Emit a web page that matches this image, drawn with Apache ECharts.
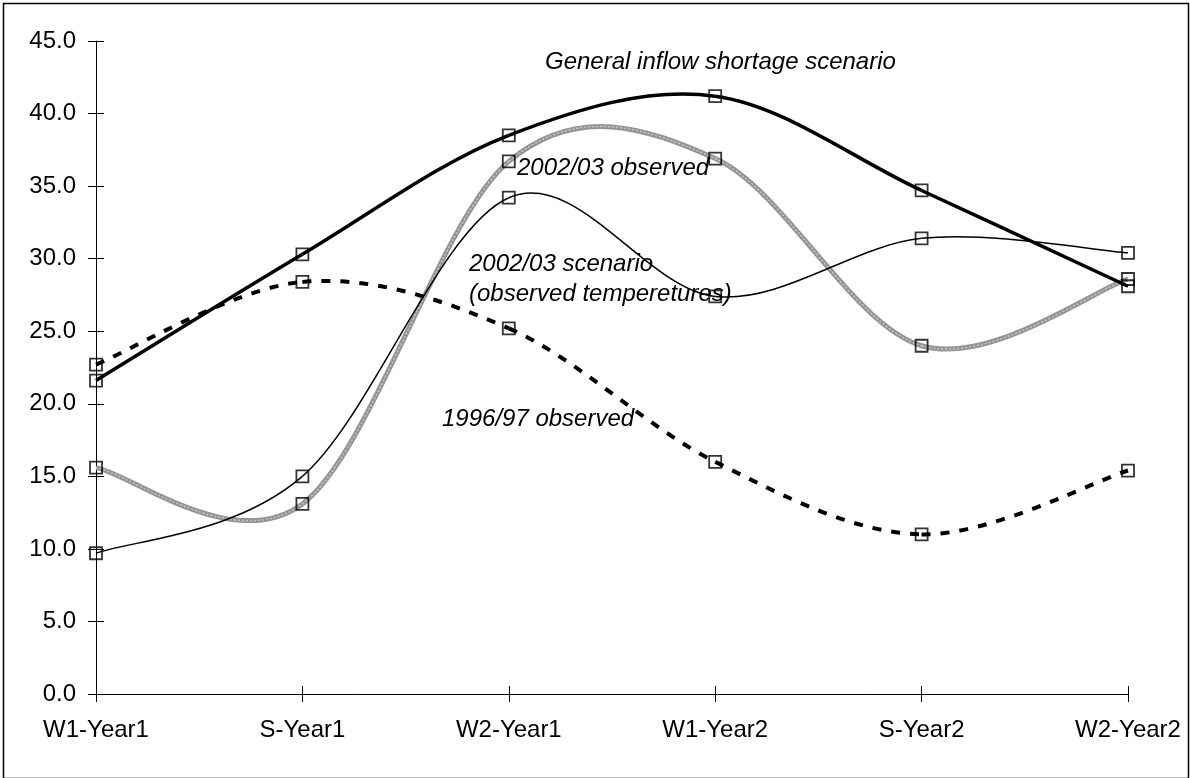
<!DOCTYPE html>
<html>
<head>
<meta charset="utf-8">
<script src="https://cdn.jsdelivr.net/npm/echarts@6/dist/echarts.min.js"></script>
<style>
html,body{margin:0;padding:0;background:#fff;}
#chart{width:1190px;height:778px;}
</style>
</head>
<body>
<div id="chart"></div>
<script>
const categories = ['W1-Year1', 'S-Year1', 'W2-Year1', 'W1-Year2', 'S-Year2', 'W2-Year2'];
const generalShortage = [21.6, 30.3, 38.5, 41.2, 34.7, 28.1];
const observed9697 = [22.7, 28.4, 25.2, 16.0, 11.0, 15.4];
const observed0203 = [15.6, 13.1, 36.7, 36.9, 24.0, 28.6];
const scenario0203 = [9.7, 15.0, 34.2, 27.4, 31.4, 30.4];
const yTicks = { min: 0, max: 45, interval: 5 };
const annotations = [
  { text: 'General inflow shortage scenario', x: 545, y: 62 },
  { text: '2002/03 observed', x: 517, y: 168 },
  { text: '2002/03 scenario', x: 469, y: 264 },
  { text: '(observed temperetures)', x: 469, y: 294 },
  { text: '1996/97 observed', x: 442, y: 419 }
];

const FONT = '"Liberation Sans", Arial, sans-serif';
const chart = echarts.init(document.getElementById('chart'), null, { renderer: 'canvas' });

// Smoothed (Catmull-Rom style, like a spreadsheet's smoothed line) curve drawn through the axis scales
function curveSeries(name, values, style, z) {
  const n = values.length;
  const clamp = k => Math.max(0, Math.min(n - 1, k));
  return {
    type: 'custom', name: name, z: z,
    data: values.map((v, i) => [i, v]),
    encode: { x: 0, y: 1 },
    renderItem: function (params, api) {
      const i = params.dataIndex;
      if (i >= n - 1) return null;
      const q = k => api.coord([clamp(k), values[clamp(k)]]);
      const p0 = q(i - 1), p1 = q(i), p2 = q(i + 1), p3 = q(i + 2);
      const shape = {
        x1: p1[0], y1: p1[1], x2: p2[0], y2: p2[1],
        cpx1: p1[0] + (p2[0] - p0[0]) / 6, cpy1: p1[1] + (p2[1] - p0[1]) / 6,
        cpx2: p2[0] - (p3[0] - p1[0]) / 6, cpy2: p2[1] - (p3[1] - p1[1]) / 6
      };
      return {
        type: 'bezierCurve', shape: shape,
        style: Object.assign({ fill: 'none', lineCap: 'butt' }, style),
        silent: true
      };
    }
  };
}

function markerSeries(name, values) {
  return {
    type: 'scatter', name: name, z: 6,
    data: values.map((v, i) => [i, v]),
    symbol: 'rect', symbolSize: 12,
    itemStyle: { color: 'rgba(0,0,0,0)', borderColor: '#000', borderWidth: 1.8 }
  };
}

chart.setOption({
  animation: false,
  backgroundColor: '#fff',
  grid: { left: 96, right: 62, top: 41, bottom: 84, containLabel: false },
  xAxis: [
    {
      type: 'category', data: categories, boundaryGap: false, position: 'bottom',
      axisLine: { lineStyle: { color: '#000', width: 1 } },
      axisTick: { show: true, inside: false, length: 8, alignWithLabel: true, lineStyle: { color: '#000' } },
      axisLabel: { color: '#000', fontFamily: FONT, fontSize: 24, margin: 24 },
      splitLine: { show: false }
    },
    {
      type: 'category', data: categories, boundaryGap: false, position: 'bottom',
      axisLine: { show: false },
      axisTick: { show: true, inside: true, length: 8, lineStyle: { color: '#000' } },
      axisLabel: { show: false },
      splitLine: { show: false }
    }
  ],
  yAxis: [
    {
      type: 'value', min: yTicks.min, max: yTicks.max, interval: yTicks.interval, position: 'left',
      axisLine: { show: true, lineStyle: { color: '#000', width: 1 } },
      axisTick: { show: true, inside: false, length: 8, lineStyle: { color: '#000' } },
      axisLabel: { color: '#000', fontFamily: FONT, fontSize: 24, margin: 20, formatter: v => v.toFixed(1) },
      splitLine: { show: false }
    },
    {
      type: 'value', min: yTicks.min, max: yTicks.max, interval: yTicks.interval, position: 'left',
      axisLine: { show: false },
      axisTick: { show: true, inside: true, length: 8, lineStyle: { color: '#000' } },
      axisLabel: { show: false },
      splitLine: { show: false }
    }
  ],
  series: [
    curveSeries('2002/03 observed', observed0203, { stroke: '#949494', lineWidth: 5 }, 2),
    curveSeries('2002/03 observed texture', observed0203, { stroke: '#c6c6c6', lineWidth: 1.5, lineDash: [2, 2] }, 2),
    curveSeries('1996/97 observed', observed9697, { stroke: '#000', lineWidth: 4, lineDash: [9, 10] }, 3),
    curveSeries('2002/03 scenario', scenario0203, { stroke: '#000', lineWidth: 1.5 }, 3),
    curveSeries('General inflow shortage scenario', generalShortage, { stroke: '#000', lineWidth: 3.5 }, 4),
    markerSeries('m1', observed0203),
    markerSeries('m2', observed9697),
    markerSeries('m3', scenario0203),
    markerSeries('m4', generalShortage)
  ],
  graphic: [
    {
      type: 'rect', left: 1, top: 1, silent: true,
      shape: { x: 0, y: 0, width: 1185, height: 775 },
      style: { fill: 'none', stroke: '#000', lineWidth: 1.5 }
    }
  ].concat(annotations.map(a => ({
    type: 'text', x: a.x, y: a.y, z: 10,
    style: { text: a.text, fill: '#000', font: 'italic 24px ' + FONT, verticalAlign: 'middle' }
  })))
});
</script>
</body>
</html>
